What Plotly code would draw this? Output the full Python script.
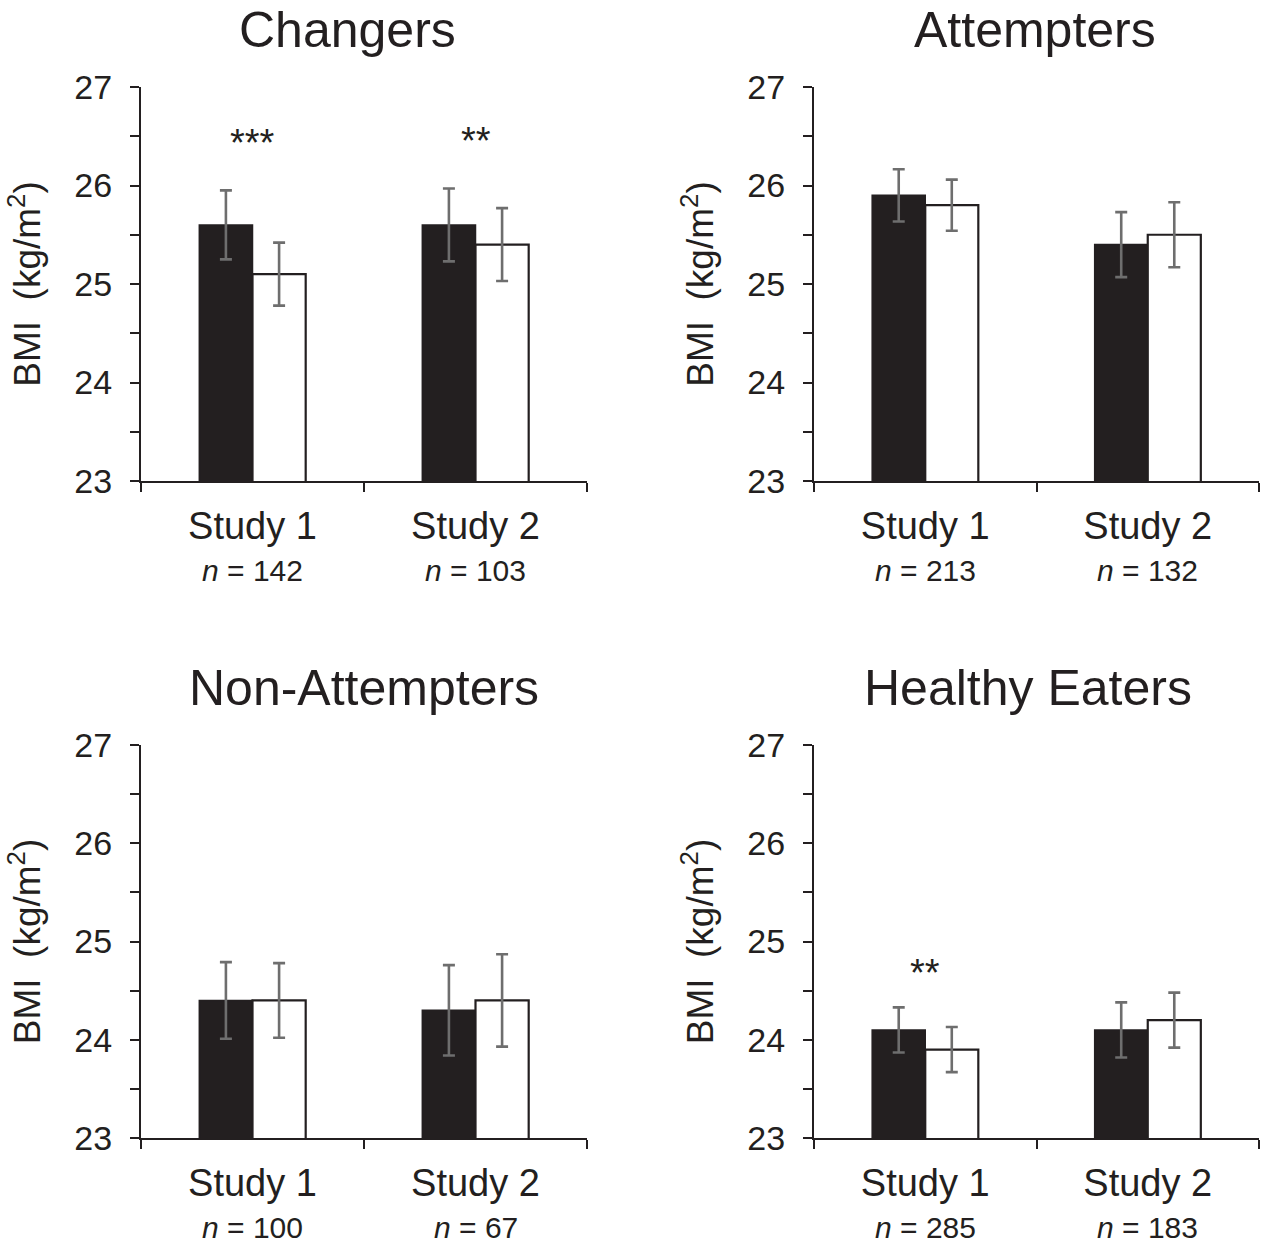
import plotly.graph_objects as go

# ---------------- data ----------------
panels = ["Changers", "Attempters", "Non-Attempters", "Healthy Eaters"]
studies = ["Study 1", "Study 2"]
n_values = [[142, 103], [213, 132], [100, 67], [285, 183]]
black_means = [[25.6, 25.6], [25.9, 25.4], [24.4, 24.3], [24.1, 24.1]]
black_err = [[0.35, 0.37], [0.265, 0.33], [0.39, 0.46], [0.23, 0.28]]
white_means = [[25.1, 25.4], [25.8, 25.5], [24.4, 24.4], [23.9, 24.2]]
white_err = [[0.32, 0.37], [0.26, 0.33], [0.38, 0.47], [0.23, 0.28]]
significance = [["***", "**"], ["", ""], ["", ""], ["**", ""]]
y_range = [23, 27]

# ---------------- layout geometry ----------------
W, H = 1263, 1246
INK = "#231f20"
FONT = "Liberation Sans, Arial, sans-serif"
x_dom = [[141 / W, 587 / W], [814 / W, 1259 / W]]
y_dom = [[1 - 481 / H, 1 - 87 / H], [1 - 1138 / H, 1 - 745 / H]]
title_pos = [(347, 30), (1035, 30), (364, 688), (1028, 688)]
star_offset = [0.48, 0, 0, 0.35]

fig = go.Figure()
layout_axes = {}
annotations = []

for i, name in enumerate(panels):
    r, c = divmod(i, 2)
    k = "" if i == 0 else str(i + 1)
    xa, ya = "x" + k, "y" + k
    fig.add_trace(go.Bar(
        x=studies, y=black_means[i], xaxis=xa, yaxis=ya,
        offsetgroup="a",
        marker=dict(color=INK, line=dict(color=INK, width=1.5)),
        error_y=dict(type="data", array=black_err[i], color="#6e6e6e",
                     thickness=2.6, width=6),
        showlegend=False))
    fig.add_trace(go.Bar(
        x=studies, y=white_means[i], xaxis=xa, yaxis=ya,
        offsetgroup="b",
        marker=dict(color="white", line=dict(color=INK, width=2.2)),
        error_y=dict(type="data", array=white_err[i], color="#6e6e6e",
                     thickness=2.6, width=6),
        showlegend=False))

    layout_axes["xaxis" + k] = dict(
        domain=x_dom[c], anchor=ya, type="category", automargin=False,
        showline=True, linecolor=INK, linewidth=2,
        ticks="outside", tickson="boundaries", ticklen=9, tickwidth=2,
        tickcolor=INK, showgrid=False, zeroline=False,
        tickfont=dict(family=FONT, size=38, color=INK),
        ticklabelstandoff=10, fixedrange=True)
    layout_axes["yaxis" + k] = dict(
        domain=y_dom[r], anchor=xa, range=y_range, automargin=False,
        tickmode="linear", tick0=23, dtick=1,
        minor=dict(ticks="outside", dtick=0.5, tick0=23, ticklen=9,
                   tickwidth=2, tickcolor=INK, showgrid=False),
        showline=True, linecolor=INK, linewidth=2,
        ticks="outside", ticklen=9, tickwidth=2, tickcolor=INK,
        showgrid=False, zeroline=False,
        tickfont=dict(family=FONT, size=34, color=INK),
        ticklabelstandoff=11,
        title=dict(text="BMI  (kg/m<sup>2</sup>)",
                   font=dict(family=FONT, size=37, color=INK), standoff=22),
        fixedrange=True)

    tx, ty = title_pos[i]
    annotations.append(dict(
        text=name, x=tx / W, y=1 - ty / H, xref="paper", yref="paper",
        xanchor="center", yanchor="middle", showarrow=False,
        font=dict(family=FONT, size=50, color=INK)))

    for j, s in enumerate(studies):
        annotations.append(dict(
            text=f"<i>n</i> = {n_values[i][j]}", x=s, xref=xa,
            y=y_dom[r][0] - 89 / H, yref="paper",
            xanchor="center", yanchor="middle", showarrow=False,
            font=dict(family=FONT, size=30, color=INK)))
        if significance[i][j]:
            top = max(black_means[i][j] + black_err[i][j],
                      white_means[i][j] + white_err[i][j])
            annotations.append(dict(
                text=significance[i][j], x=s, xref=xa,
                y=top + star_offset[i], yref=ya,
                xanchor="center", yanchor="middle", showarrow=False,
                font=dict(family=FONT, size=38, color=INK)))

fig.update_layout(
    width=W, height=H, template="none",
    margin=dict(l=0, r=0, t=0, b=0, pad=0),
    paper_bgcolor="white", plot_bgcolor="white",
    barmode="group", bargap=0.523, bargroupgap=0,
    annotations=annotations,
    **layout_axes)

fig.write_html(
    "out.html",
    config={"displayModeBar": False, "staticPlot": True},
    post_script="document.body.style.margin='0px';"
                "document.body.style.overflow='hidden';")
